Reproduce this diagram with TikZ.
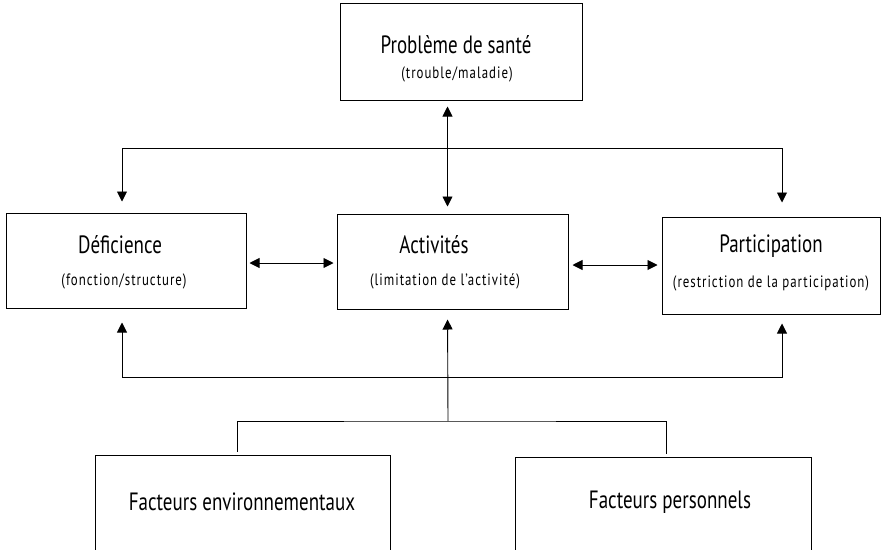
\documentclass[tikz,border=0pt]{standalone}
\usepackage{fontspec}
\setmainfont[FakeStretch=0.76]{PT Sans}
\newfontfamily\subfont[FakeStretch=0.78,LetterSpace=6]{PT Sans}
\usetikzlibrary{arrows.meta}
\begin{document}
\begin{tikzpicture}[x=1pt,y=-1pt,
  box/.style={draw=black,line width=1.0pt,inner sep=0pt},
  ttl/.style={font=\fontsize{25}{28}\selectfont,inner sep=0pt},
  sub/.style={font=\subfont\fontsize{16.5}{19}\selectfont,inner sep=0pt},
  conn/.style={line width=0.9pt},
  arr/.style={conn,-{Triangle[length=10pt,width=10pt]}},
  dbl/.style={conn,{Triangle[length=10pt,width=10pt]}-{Triangle[length=10pt,width=10pt]}}]
\useasboundingbox (0,0) rectangle (885,549);
\fill[white] (0,0) rectangle (885,549);
% boxes
\node[box,minimum width=242pt,minimum height=97pt] (top) at (461,51.5) {};
\node[box,minimum width=240pt,minimum height=95pt] (def) at (126,260.5) {};
\node[box,minimum width=231pt,minimum height=95pt] (act) at (452.5,261.5) {};
\node[box,minimum width=218pt,minimum height=97pt] (par) at (771,265.5) {};
\node[box,minimum width=295pt,minimum height=110pt] (env) at (242.5,510) {};
\node[box,minimum width=296pt,minimum height=110pt] (pers) at (663,512) {};
% texts
\node[ttl] (topT) at (456,45) {Problème de santé};
\node[sub] (topS) at (457,74) {(trouble/maladie)};
\node[ttl] (defT) at (120,245) {Déficience};
\node[sub] (defS) at (124,281) {(fonction/structure)};
\node[ttl] (actT) at (434,245) {Activités};
\node[sub] (actS) at (445,281) {(limitation de l’activité)};
\node[ttl] (parT) at (771,246) {Participation};
\node[sub] (parS) at (771,283) {(restriction de la participation)};
\node[ttl] (envT) at (242,502) {Facteurs environnementaux};
\node[ttl] (persT) at (670,502) {Facteurs personnels};
% helper coordinates
\coordinate (xL) at (122,0);
\coordinate (xR) at (782,0);
\coordinate (xC) at (447.5,0);
\coordinate (j1) at (447.5,148);
\coordinate (j2) at (448,377);
\coordinate (j3) at (448,421);
\coordinate (bL) at (237,0);
\coordinate (bR) at (666,0);
% top connectors
\draw[dbl,shorten <=6pt,shorten >=7pt] (top.south -| xC) -- (act.north -| xC);
\draw[arr,shorten >=11pt] (j1) -| (def.north -| xL);
\draw[arr,shorten >=14pt] (j1) -| (par.north -| xR);
% horizontal double arrows
\draw[dbl,shorten <=3pt,shorten >=3pt] (def.east |- 0,263) -- (act.west |- 0,263);
\draw[dbl,shorten <=4pt,shorten >=4pt] (act.east |- 0,265) -- (par.west |- 0,265);
% bottom connectors
\draw[arr,shorten >=14pt] (j2) -| (def.south -| xL);
\draw[arr,shorten >=9pt] (j2) -| (par.south -| xR);
\draw[arr,shorten >=10pt] (j3) -- (act.south -| xC);
\draw[conn] ([yshift=3pt]env.north -| bL) |- (j3) -| ([yshift=3pt]pers.north -| bR);
\end{tikzpicture}
\end{document}
